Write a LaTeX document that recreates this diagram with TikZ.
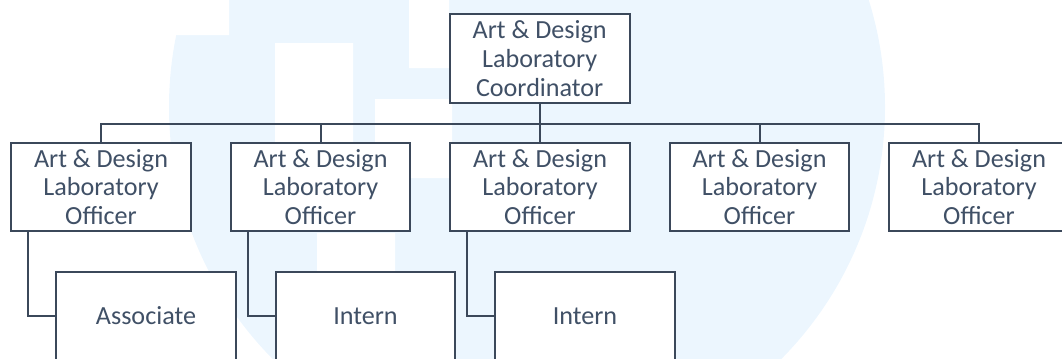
\documentclass[tikz,border=0pt]{standalone}
\usepackage{fontspec}
\setmainfont{Carlito}
\definecolor{linec}{RGB}{59,72,90}
\definecolor{textc}{RGB}{64,80,102}
\definecolor{wmark}{RGB}{236,246,254}
\begin{document}
\begin{tikzpicture}[x=0.75pt,y=-0.75pt,
    box/.style={draw=linec,line width=1.5pt,fill=white,minimum width=134.7pt,
      minimum height=66.7pt,inner sep=0pt,align=center,text=textc,
      font=\fontsize{19.6}{21.6}\selectfont},
    link/.style={draw=linec,line width=1.5pt}]
\useasboundingbox (0,0) rectangle (1062,358);
\clip (0,0) rectangle (1062,358);
% faint logo behind the chart
\fill[wmark] (527,107) circle [radius=268.5pt];
\fill[white] (0,0) rectangle (229,35)
    (275,43) rectangle (353,142)
    (409,0) rectangle (449,68)
    (375,99) rectangle (452,178)
    (317,233) rectangle (395,358);
% top
\node[box] (coord) at (539.7,58.7) {Art \& Design\\Laboratory\\Coordinator};
\coordinate (bus) at (0,123.5);
% officers
\foreach \i/\x in {1/101,2/320.5,3/540,4/759.5,5/979}
    \node[box] (off\i) at (\x,187) {Art \& Design\\Laboratory\\Officer};
\foreach \i in {1,...,5}
    \draw[link] (coord.south) -- (coord.south |- bus) -| (off\i.north);
% assistants
\node[box] (assoc) at (146,316) {Associate};
\node[box] (intern1) at (365.5,316) {Intern};
\node[box] (intern2) at (585,316) {Intern};
\draw[link] (off1.south west) ++(18,0) |- (assoc.west);
\draw[link] (off2.south west) ++(18,0) |- (intern1.west);
\draw[link] (off3.south west) ++(18,0) |- (intern2.west);
\end{tikzpicture}
\end{document}
